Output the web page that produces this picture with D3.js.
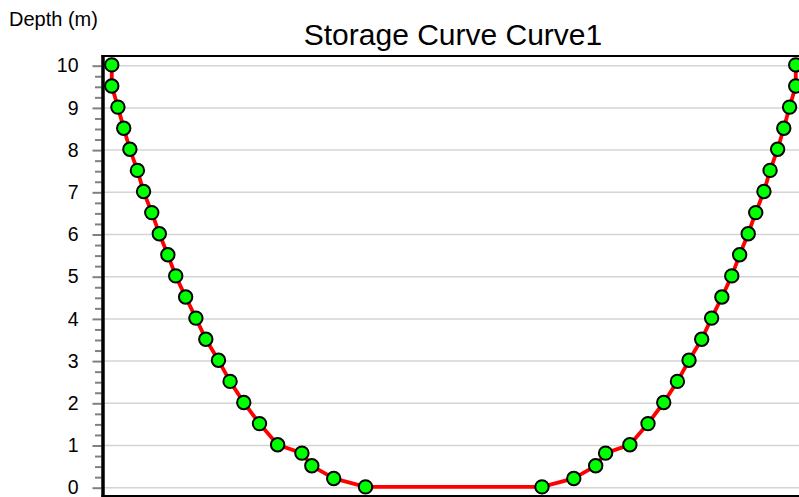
<!DOCTYPE html>
<html>
<head>
<meta charset="utf-8">
<script src="https://cdn.jsdelivr.net/npm/d3@7"></script>
<style>
  html, body { margin: 0; padding: 0; background: #fff; overflow: hidden; }
  svg { display: block; font-family: "Liberation Sans", Arial, sans-serif; }
</style>
</head>
<body>
<svg id="chart" width="799" height="497"></svg>
<script>
// Storage curve data: depth (m) and half-width of the mirrored shape
const depths     = [0, 0.2, 0.5, 0.8, 1.0, 1.5, 2.0, 2.5, 3.0, 3.5, 4.0, 4.5, 5.0, 5.5, 6.0, 6.5, 7.0, 7.5, 8.0, 8.5, 9.0, 9.5, 10.0];
const halfWidths = [2.58, 3.51, 4.15, 4.44, 5.15, 5.68, 6.14, 6.54, 6.88, 7.25, 7.54, 7.84, 8.13, 8.36, 8.61, 8.83, 9.07, 9.25, 9.47, 9.65, 9.82, 10.0, 10.0];
const yTicks = [0, 1, 2, 3, 4, 5, 6, 7, 8, 9, 10];
const titleText = "Storage Curve Curve1";
const yLabel = "Depth (m)";

const svg = d3.select("#chart");
const plot = { left: 101.5, right: 806, top: 56, bottom: 496 };

const x = d3.scaleLinear().domain([-10.3, 10.3]).range([plot.left, plot.right]);
const y = d3.scaleLinear().domain([0, 10]).range([487.7, 65.7]);

// gridlines
svg.append("g").selectAll("line").data(yTicks).join("line")
  .attr("x1", plot.left).attr("x2", plot.right)
  .attr("y1", d => y(d)).attr("y2", d => y(d))
  .attr("stroke", "#d4d4d4").attr("stroke-width", 1.5);

// top border
svg.append("line").attr("x1", plot.left).attr("x2", plot.right)
  .attr("y1", plot.top).attr("y2", plot.top)
  .attr("stroke", "#000").attr("stroke-width", 2);
// bottom border
svg.append("line").attr("x1", plot.left).attr("x2", plot.right)
  .attr("y1", plot.bottom).attr("y2", plot.bottom)
  .attr("stroke", "#000").attr("stroke-width", 2);

// y axis with minor ticks
const minorTicks = d3.range(0, 10.001, 0.25).filter(v => Math.abs(v - Math.round(v)) > 1e-6);
const yAxisMajor = d3.axisLeft(y).tickValues(yTicks).tickSize(9).tickPadding(14).tickFormat(d3.format("d"));
const gAxis = svg.append("g").attr("transform", `translate(${plot.left},0)`).call(yAxisMajor);
gAxis.select(".domain").remove();
gAxis.selectAll(".tick line").attr("stroke", "#808080").attr("stroke-width", 2);
gAxis.selectAll(".tick text").attr("font-size", 19.5).attr("fill", "#000")
  .attr("font-family", "Liberation Sans, Arial, sans-serif");
const gMinor = svg.append("g").attr("transform", `translate(${plot.left},0)`)
  .call(d3.axisLeft(y).tickValues(minorTicks).tickSize(6.5).tickFormat(""));
gMinor.select(".domain").remove();
gMinor.selectAll(".tick line").attr("stroke", "#808080").attr("stroke-width", 2);

// left axis line
svg.append("line").attr("x1", plot.left + 1.5).attr("x2", plot.left + 1.5)
  .attr("y1", plot.top - 1).attr("y2", 497)
  .attr("stroke", "#000").attr("stroke-width", 3.5);

// build curve points: left side top->bottom, right side bottom->top
const pts = [];
for (let i = depths.length - 1; i >= 0; i--) pts.push({ x: -halfWidths[i], y: depths[i] });
for (let i = 0; i < depths.length; i++) pts.push({ x: halfWidths[i], y: depths[i] });

const line = d3.line().x(d => x(d.x)).y(d => y(d.y) - 0.8);
svg.append("path").datum(pts).attr("d", line)
  .attr("fill", "none").attr("stroke", "#ff0000").attr("stroke-width", 3.8)
  .attr("stroke-linejoin", "round");

svg.append("g").selectAll("circle").data(pts).join("circle")
  .attr("cx", d => x(d.x)).attr("cy", d => y(d.y) - 0.8).attr("r", 6.7)
  .attr("fill", "#00ff00").attr("stroke", "#000").attr("stroke-width", 2);

// title and label
svg.append("text").attr("x", 453).attr("y", 45).attr("text-anchor", "middle")
  .attr("font-size", 30).attr("fill", "#000").text(titleText);
svg.append("text").attr("x", 9).attr("y", 26).attr("font-size", 20).attr("fill", "#000").text(yLabel);
</script>
</body>
</html>
